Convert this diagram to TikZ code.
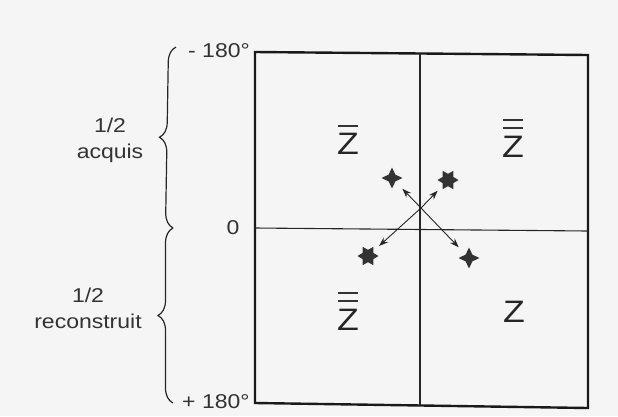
\documentclass[tikz,border=0pt]{standalone}
\usepackage{fontspec}
\setmainfont[FakeStretch=1.15]{Liberation Sans}
\usetikzlibrary{shapes.geometric,arrows.meta,decorations.pathreplacing}
\tikzset{
  lbl/.style={inner sep=0pt,font=\fontsize{20}{26}\selectfont,text=black!80},
  zlet/.style={inner sep=0pt,font=\fontsize{31}{31}\selectfont,text=black!85},
  zbar/.style={line width=1.3pt,black!80},
  frame/.style={line width=2.4pt,black!90},
  cross/.style={line width=1.1pt,black!85},
  starfour/.style={star,star points=4,star point ratio=2.2,minimum size=21pt,inner sep=0pt,fill=black!80,draw=none},
  starsix/.style={star,star points=6,star point ratio=1.7,minimum size=21pt,inner sep=0pt,fill=black!80,draw=none},
  arr/.style={line width=0.9pt,black!85,-{Stealth[length=9pt,width=6.5pt]},shorten >=15pt},
  bracestyle/.style={decorate,decoration={brace,amplitude=15pt},line width=1.2pt,black!85}
}
\begin{document}
\begin{tikzpicture}[x=1pt,y=-1pt]
\fill[black!4] (0,0) rectangle (618,416);
\useasboundingbox (0,0) rectangle (618,416);
% frame
\coordinate (tl) at (255,52);
\coordinate (tr) at (588,55);
\coordinate (br) at (588,408);
\coordinate (bl) at (255,403);
\draw[frame] (tl) -- (tr) -- (br) -- (bl) -- cycle;
\coordinate (vt) at (420,53);
\coordinate (vb) at (420,405);
\coordinate (hl) at (255,228);
\coordinate (hr) at (588,231);
\draw[cross] (vt) -- (vb);
\draw[cross] (hl) -- (hr);
% Z letters
\node[zlet] (z1) at (348,144) {Z};
\node[zlet] (z2) at (513,147) {Z};
\node[zlet] (z3) at (348,320) {Z};
\node[zlet] (z4) at (514,312) {Z};
\draw[zbar] ([xshift=-10pt,yshift=7pt]z1.north) -- ([xshift=10pt,yshift=7pt]z1.north);
\draw[zbar] ([xshift=-10pt,yshift=8pt]z2.north) -- ([xshift=10pt,yshift=8pt]z2.north);
\draw[zbar] ([xshift=-10pt,yshift=16pt]z2.north) -- ([xshift=10pt,yshift=16pt]z2.north);
\draw[zbar] ([xshift=-10pt,yshift=8pt]z3.north) -- ([xshift=10pt,yshift=8pt]z3.north);
\draw[zbar] ([xshift=-10pt,yshift=16pt]z3.north) -- ([xshift=10pt,yshift=16pt]z3.north);
% stars and arrows
\coordinate (c) at (421,208);
\node[starfour] (s1) at (392,178) {};
\node[starsix,rotate=90] (s2) at (448,180) {};
\node[starsix,rotate=90] (s3) at (368,256) {};
\node[starfour] (s4) at (469,258) {};
\draw[arr] (c) -- (s1.center);
\draw[arr] (c) -- (s2.center);
\draw[arr] (c) -- (s3.center);
\draw[arr] (c) -- (s4.center);
% braces
\coordinate (btop) at (176,47);
\coordinate (bmid) at (173,228);
\coordinate (bbot) at (173,403);
\draw[bracestyle] (bmid) -- (btop);
\draw[bracestyle] (bbot) -- (bmid);
% labels
\node[lbl,anchor=west] (m180) at (188,51) {- 180°};
\node[lbl] (zero) at (233,228) {0};
\node[lbl,anchor=west] (p180) at (182,402) {+ 180°};
\node[lbl,align=center] (acq) at (110,140) {1/2\\acquis};
\node[lbl,align=center] (rec) at (88,308) {1/2\\reconstruit};
\end{tikzpicture}
\end{document}
